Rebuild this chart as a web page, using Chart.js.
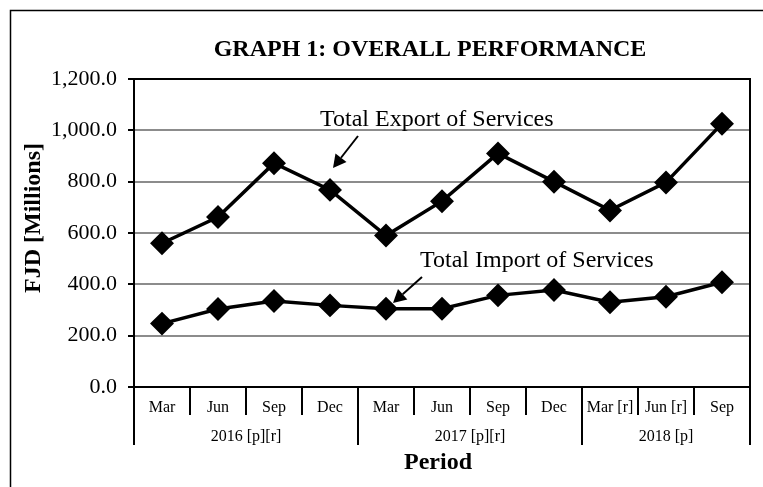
<!DOCTYPE html>
<html>
<head>
<meta charset="utf-8">
<script src="https://cdn.jsdelivr.net/npm/chart.js@4.4.1/dist/chart.umd.min.js"></script>
<style>
    html, body { margin: 0; padding: 0; background: #fff; }
    #wrap { width: 763px; height: 487px; }
</style>
</head>
<body>
<div id="wrap"><canvas id="chart" width="763" height="487"></canvas></div>

<script>
    // values (FJD millions)
    var periods = ['Mar', 'Jun', 'Sep', 'Dec', 'Mar', 'Jun', 'Sep', 'Dec', 'Mar [r]', 'Jun [r]', 'Sep'];
    var years = ['2016 [p][r]', '2017 [p][r]', '2018 [p]'];
    var yearSpans = [4, 4, 3];
    var exportServices = [560, 662, 872, 768, 590, 724, 910, 800, 688, 797, 1026];
    var importServices = [247, 304, 335, 318, 305, 305, 357, 378, 330, 352, 408];
    var yTicks = [0, 200, 400, 600, 800, 1000, 1200];

    var serif = "'Liberation Serif', 'Times New Roman', serif";

    function arrow(ctx, x1, y1, x2, y2) {
        var ang = Math.atan2(y2 - y1, x2 - x1);
        var hl = 13, hw = 7;
        var bx = x2 - Math.cos(ang) * hl, by = y2 - Math.sin(ang) * hl;
        ctx.beginPath();
        ctx.moveTo(x1, y1);
        ctx.lineTo(bx, by);
        ctx.lineWidth = 2;
        ctx.strokeStyle = '#000';
        ctx.stroke();
        ctx.beginPath();
        ctx.moveTo(x2, y2);
        ctx.lineTo(bx + Math.sin(ang) * hw, by - Math.cos(ang) * hw);
        ctx.lineTo(bx - Math.sin(ang) * hw, by + Math.cos(ang) * hw);
        ctx.closePath();
        ctx.fillStyle = '#000';
        ctx.fill();
    }

    var extras = {
        id: 'extras',
        beforeDatasetsDraw: function (chart) {
            var ctx = chart.ctx, a = chart.chartArea;
            ctx.save();
            ctx.strokeStyle = '#000';
            ctx.lineWidth = 2;
            ctx.strokeRect(a.left, a.top, a.right - a.left, a.bottom - a.top);
            ctx.restore();
        },
        afterDraw: function (chart) {
            var ctx = chart.ctx, a = chart.chartArea, x = chart.scales.x;
            ctx.save();

            // outer frame
            ctx.strokeStyle = '#000';
            ctx.lineWidth = 1.5;
            ctx.beginPath();
            ctx.moveTo(10.5, 487);
            ctx.lineTo(10.5, 10.5);
            ctx.lineTo(763, 10.5);
            ctx.stroke();

            // category dividers and year groups
            var half = (x.getPixelForValue(1) - x.getPixelForValue(0)) / 2;
            var starts = [0];
            yearSpans.forEach(function (s, i) { starts.push(starts[i] + s); });
            ctx.lineWidth = 2;
            for (var i = 0; i <= periods.length; i++) {
                var bx = x.getPixelForValue(0) - half + i * 2 * half;
                var longLine = starts.indexOf(i) >= 0;
                ctx.beginPath();
                ctx.moveTo(bx, a.bottom);
                ctx.lineTo(bx, a.bottom + (longLine ? 58 : 28));
                ctx.stroke();
            }
            ctx.fillStyle = '#000';
            ctx.font = '16px ' + serif;
            ctx.textAlign = 'center';
            ctx.textBaseline = 'middle';
            years.forEach(function (y, i) {
                var l = x.getPixelForValue(0) - half + starts[i] * 2 * half;
                var r = x.getPixelForValue(0) - half + starts[i + 1] * 2 * half;
                ctx.fillText(y, (l + r) / 2, a.bottom + 50);
            });

            // titles
            ctx.font = 'bold 24px ' + serif;
            ctx.textBaseline = 'alphabetic';
            ctx.fillText('GRAPH 1: OVERALL PERFORMANCE', 430, 56);
            ctx.fillText('Period', 438, 469);
            ctx.save();
            ctx.translate(40, 218);
            ctx.rotate(-Math.PI / 2);
            ctx.fillText('FJD [Millions]', 0, 0);
            ctx.restore();

            // annotations
            ctx.font = '24px ' + serif;
            ctx.textAlign = 'left';
            ctx.fillText('Total Export of Services', 320, 126);
            ctx.fillText('Total Import of Services', 420, 267);
            arrow(ctx, 358, 136, 333, 168);
            arrow(ctx, 422, 277, 393, 303);

            ctx.restore();
        }
    };

    var ctx = document.getElementById('chart').getContext('2d');
    var config = {
        type: 'line',
        data: {
            labels: periods,
            datasets: [{
                label: 'Total Export of Services',
                data: exportServices,
                borderColor: '#000',
                backgroundColor: '#000',
                borderWidth: 3.5,
                pointStyle: 'rectRot',
                pointRadius: 9.5,
                pointBackgroundColor: '#000',
                pointBorderColor: '#000',
                tension: 0
            }, {
                label: 'Total Import of Services',
                data: importServices,
                borderColor: '#000',
                backgroundColor: '#000',
                borderWidth: 3.5,
                pointStyle: 'rectRot',
                pointRadius: 9.5,
                pointBackgroundColor: '#000',
                pointBorderColor: '#000',
                tension: 0
            }]
        },
        options: {
            responsive: false,
            animation: false,
            layout: { padding: { left: 0, right: 10, top: 79, bottom: 0 } },
            plugins: {
                legend: { display: false },
                title: { display: false },
                tooltip: { enabled: false }
            },
            scales: {
                x: {
                    offset: true,
                    grid: { display: false, drawTicks: false },
                    border: { color: '#000', width: 2 },
                    ticks: {
                        color: '#000',
                        padding: 11,
                        maxRotation: 0,
                        autoSkip: false,
                        font: { family: serif, size: 16 }
                    },
                    afterFit: function (s) { s.height = 100; }
                },
                y: {
                    min: yTicks[0],
                    max: yTicks[yTicks.length - 1],
                    afterBuildTicks: function (s) {
                        s.ticks = yTicks.map(function (v) { return { value: v }; });
                    },
                    grid: {
                        color: '#8c8c8c',
                        lineWidth: 2,
                        tickColor: '#000',
                        tickLength: 6
                    },
                    border: { color: '#000', width: 2 },
                    ticks: {
                        color: '#000',
                        padding: 11,
                        font: { family: serif, size: 22 },
                        callback: function (v) {
                            return v.toLocaleString('en-US', { minimumFractionDigits: 1, maximumFractionDigits: 1 });
                        }
                    },
                    afterFit: function (s) { s.width = 134; }
                }
            }
        },
        plugins: [extras]
    };

    var chart = new Chart(ctx, config);
</script>
</body>
</html>
